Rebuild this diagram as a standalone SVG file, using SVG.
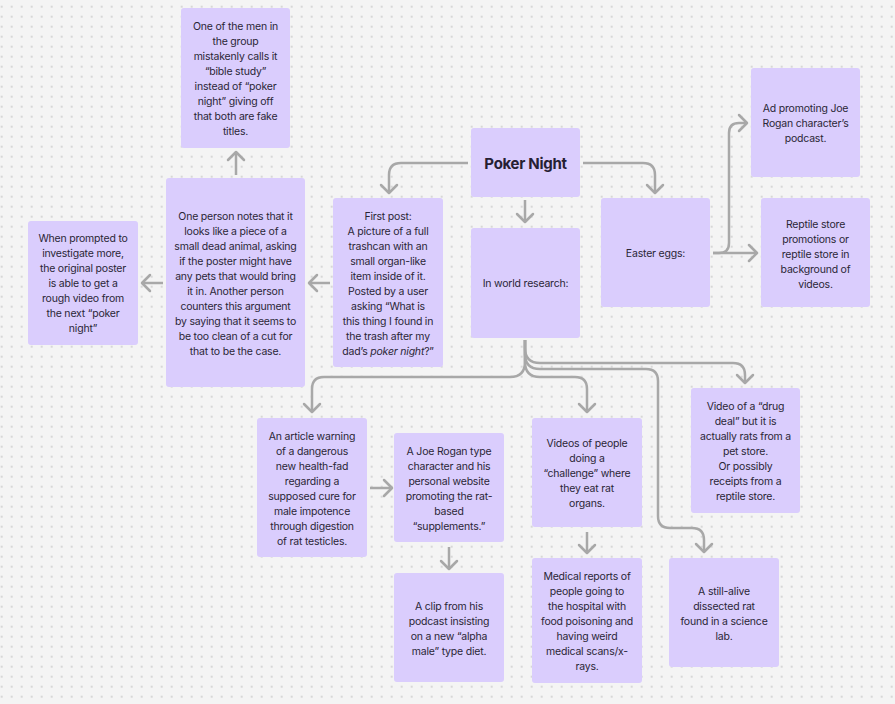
<svg xmlns="http://www.w3.org/2000/svg" width="895" height="704" viewBox="0 0 895 704">
<defs>
<pattern id="dots" x="1.7" y="6.7" width="10" height="10" patternUnits="userSpaceOnUse">
<circle cx="0" cy="0" r="0.9" fill="#c9c9c9"/><circle cx="10" cy="0" r="0.9" fill="#c9c9c9"/><circle cx="0" cy="10" r="0.9" fill="#c9c9c9"/><circle cx="10" cy="10" r="0.9" fill="#c9c9c9"/>
</pattern>
<marker id="ah" viewBox="-11 -11 13 22" refX="0" refY="0" markerWidth="13" markerHeight="22" markerUnits="userSpaceOnUse" orient="auto">
<path d="M-8,-8 L0,0 L-8,8" fill="none" stroke="#a8a8a8" stroke-width="2.5" stroke-linecap="round" stroke-linejoin="round"/>
</marker>
<style>
.n{fill:#dacdfd;}
.t{font-family:Inter,"Liberation Sans",sans-serif;font-size:10.5px;letter-spacing:-0.2px;fill:#2a2636;text-anchor:middle;}
.b{font-size:15px;font-weight:700;letter-spacing:-0.3px;fill:#262033;}
.c{fill:none;stroke:#a8a8a8;stroke-width:2.5;stroke-linejoin:round;marker-end:url(#ah);}
</style>
</defs>
<rect width="895" height="704" fill="#f4f4f4"/>
<rect width="895" height="704" fill="url(#dots)"/>

<g id="connectors">
<path class="c" d="M468,163 H401 Q389,163 389,175 V193"/>
<path class="c" d="M525,200 V222"/>
<path class="c" d="M583,163 H643 Q655,163 655,175 V193"/>
<path class="c" d="M713,253 H719 Q729,253 729,243 V133 Q729,123 739,123 H747"/>
<path class="c" d="M713,253 H757"/>
<path class="c" d="M236,175 V152"/>
<path class="c" d="M330,283 H309"/>
<path class="c" d="M163,283 H142"/>
<path class="c" d="M525,340 V362 Q525,377 510,377 H324 Q312,377 312,389 V412"/>
<path class="c" d="M525,340 V362 Q525,377 540,377 H575 Q587,377 587,389 V412"/>
<path class="c" d="M525,340 V354 Q525,369 540,369 H646 Q658,369 658,381 V516 Q658,528 670,528 H692 Q704,528 704,540 V552"/>
<path class="c" d="M525,340 V348 Q525,363 540,363 H733 Q745,363 745,375 V383"/>
<path class="c" d="M370,488 H392"/>
<path class="c" d="M449,547 V569"/>
<path class="c" d="M587,532 V553"/>
</g>

<g id="poker-night">
<rect class="n" x="471" y="128" width="109" height="69" rx="3"/>
<text class="t b" x="525.5" y="168.5">Poker Night</text>
</g>

<g id="bible-study">
<rect class="n" x="181" y="8" width="109" height="140" rx="3"/>
<text class="t" x="235.5"><tspan x="235.5" y="30">One of the men in</tspan><tspan x="235.5" y="45">the group</tspan><tspan x="235.5" y="60">mistakenly calls it</tspan><tspan x="235.5" y="75">“bible study”</tspan><tspan x="235.5" y="90">instead of “poker</tspan><tspan x="235.5" y="105">night” giving off</tspan><tspan x="235.5" y="120">that both are fake</tspan><tspan x="235.5" y="135">titles.</tspan></text>
</g>

<g id="one-person">
<rect class="n" x="166" y="178" width="139" height="209" rx="3"/>
<text class="t" x="235.5"><tspan x="235.5" y="220">One person notes that it</tspan><tspan x="235.5" y="235">looks like a piece of a</tspan><tspan x="235.5" y="250">small dead animal, asking</tspan><tspan x="235.5" y="265">if the poster might have</tspan><tspan x="235.5" y="280">any pets that would bring</tspan><tspan x="235.5" y="295">it in. Another person</tspan><tspan x="235.5" y="310">counters this argument</tspan><tspan x="235.5" y="325">by saying that it seems to</tspan><tspan x="235.5" y="340">be too clean of a cut for</tspan><tspan x="235.5" y="355">that to be the case.</tspan></text>
</g>

<g id="when-prompted">
<rect class="n" x="28" y="221" width="110" height="124" rx="3"/>
<text class="t" x="83"><tspan x="83" y="242">When prompted to</tspan><tspan x="83" y="257">investigate more,</tspan><tspan x="83" y="272">the original poster</tspan><tspan x="83" y="287">is able to get a</tspan><tspan x="83" y="302">rough video from</tspan><tspan x="83" y="317">the next “poker</tspan><tspan x="83" y="332">night”</tspan></text>
</g>

<g id="first-post">
<rect class="n" x="333" y="198" width="110" height="169" rx="3"/>
<text class="t" x="388"><tspan x="388" y="220">First post:</tspan><tspan x="388" y="235">A picture of a full</tspan><tspan x="388" y="250">trashcan with an</tspan><tspan x="388" y="265">small organ-like</tspan><tspan x="388" y="280">item inside of it.</tspan><tspan x="388" y="295">Posted by a user</tspan><tspan x="388" y="310">asking “What is</tspan><tspan x="388" y="325">this thing I found in</tspan><tspan x="388" y="340">the trash after my</tspan><tspan x="388" y="355">dad’s <tspan font-style="italic">poker night</tspan>?”</tspan></text>
</g>

<g id="in-world-research">
<rect class="n" x="471" y="228" width="109" height="110" rx="3"/>
<text class="t" x="525.5" y="286.5">In world research:</text>
</g>

<g id="easter-eggs">
<rect class="n" x="601" y="198" width="109" height="109" rx="3"/>
<text class="t" x="655.5" y="257">Easter eggs:</text>
</g>

<g id="ad-promoting">
<rect class="n" x="751" y="68" width="109" height="109" rx="3"/>
<text class="t" x="805.5"><tspan x="805.5" y="112">Ad promoting Joe</tspan><tspan x="805.5" y="127">Rogan character’s</tspan><tspan x="805.5" y="142">podcast.</tspan></text>
</g>

<g id="reptile-store">
<rect class="n" x="761" y="198" width="109" height="109" rx="3"/>
<text class="t" x="815.5"><tspan x="815.5" y="227.5">Reptile store</tspan><tspan x="815.5" y="242.5">promotions or</tspan><tspan x="815.5" y="257.5">reptile store in</tspan><tspan x="815.5" y="272.5">background of</tspan><tspan x="815.5" y="287.5">videos.</tspan></text>
</g>

<g id="article">
<rect class="n" x="257" y="418" width="110" height="139" rx="3"/>
<text class="t" x="312"><tspan x="312" y="440">An article warning</tspan><tspan x="312" y="455">of a dangerous</tspan><tspan x="312" y="470">new health-fad</tspan><tspan x="312" y="485">regarding a</tspan><tspan x="312" y="500">supposed cure for</tspan><tspan x="312" y="515">male impotence</tspan><tspan x="312" y="530">through digestion</tspan><tspan x="312" y="545">of rat testicles.</tspan></text>
</g>

<g id="joe-rogan">
<rect class="n" x="394" y="433" width="110" height="109" rx="3"/>
<text class="t" x="449"><tspan x="449" y="455">A Joe Rogan type</tspan><tspan x="449" y="470">character and his</tspan><tspan x="449" y="485">personal website</tspan><tspan x="449" y="500">promoting the rat-</tspan><tspan x="449" y="515">based</tspan><tspan x="449" y="530">“supplements.”</tspan></text>
</g>

<g id="clip">
<rect class="n" x="394" y="573" width="110" height="109" rx="3"/>
<text class="t" x="449"><tspan x="449" y="610">A clip from his</tspan><tspan x="449" y="625">podcast insisting</tspan><tspan x="449" y="640">on a new “alpha</tspan><tspan x="449" y="655">male” type diet.</tspan></text>
</g>

<g id="videos-challenge">
<rect class="n" x="532" y="418" width="110" height="109" rx="3"/>
<text class="t" x="587"><tspan x="587" y="447">Videos of people</tspan><tspan x="587" y="462">doing a</tspan><tspan x="587" y="477">“challenge” where</tspan><tspan x="587" y="492">they eat rat</tspan><tspan x="587" y="507">organs.</tspan></text>
</g>

<g id="medical-reports">
<rect class="n" x="532" y="558" width="110" height="125" rx="3"/>
<text class="t" x="587"><tspan x="587" y="580">Medical reports of</tspan><tspan x="587" y="595">people going to</tspan><tspan x="587" y="610">the hospital with</tspan><tspan x="587" y="625">food poisoning and</tspan><tspan x="587" y="640">having weird</tspan><tspan x="587" y="655">medical scans/x-</tspan><tspan x="587" y="670">rays.</tspan></text>
</g>

<g id="drug-deal">
<rect class="n" x="691" y="388" width="109" height="125" rx="3"/>
<text class="t" x="745.5"><tspan x="745.5" y="410">Video of a “drug</tspan><tspan x="745.5" y="425">deal” but it is</tspan><tspan x="745.5" y="440">actually rats from a</tspan><tspan x="745.5" y="455">pet store.</tspan><tspan x="745.5" y="470">Or possibly</tspan><tspan x="745.5" y="485">receipts from a</tspan><tspan x="745.5" y="500">reptile store.</tspan></text>
</g>

<g id="still-alive">
<rect class="n" x="669" y="558" width="110" height="109" rx="3"/>
<text class="t" x="724"><tspan x="724" y="595">A still-alive</tspan><tspan x="724" y="610">dissected rat</tspan><tspan x="724" y="625">found in a science</tspan><tspan x="724" y="640">lab.</tspan></text>
</g>
</svg>
